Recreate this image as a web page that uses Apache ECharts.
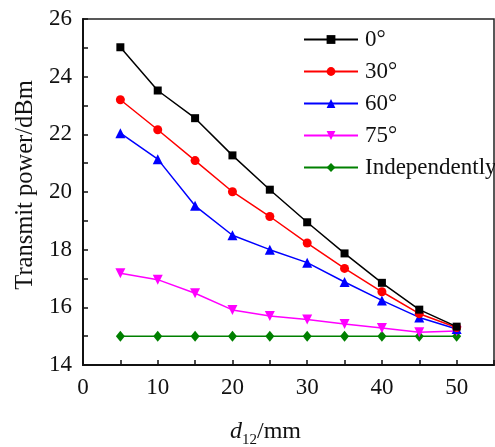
<!DOCTYPE html>
<html>
<head>
<meta charset="utf-8">
<script src="https://cdn.jsdelivr.net/npm/echarts@6/dist/echarts.min.js"></script>
<style>
  html, body { margin: 0; padding: 0; background: #fff; }
  #chart { width: 495px; height: 447px; }
</style>
</head>
<body>
<div id="chart"></div>
<script>
// Distance d12 (mm)
const distances = [5, 10, 15, 20, 25, 30, 35, 40, 45, 50];

// Transmit power (dBm) for each angle
const power0 = [25.02, 23.52, 22.56, 21.27, 20.08, 18.95, 17.87, 16.85, 15.92, 15.33];
const power30 = [23.2, 22.16, 21.09, 20.01, 19.15, 18.23, 17.35, 16.54, 15.78, 15.3];
const power60 = [22.04, 21.14, 19.52, 18.5, 18.0, 17.55, 16.88, 16.24, 15.65, 15.25];
const power75 = [17.18, 16.96, 16.49, 15.91, 15.7, 15.58, 15.42, 15.28, 15.14, 15.18];
const powerIndependent = [15.0, 15.0, 15.0, 15.0, 15.0, 15.0, 15.0, 15.0, 15.0, 15.0];

const seriesNames = ['0°', '30°', '60°', '75°', 'Independently'];
const seriesColors = ['#000000', '#ff0000', '#0000ff', '#ff00ff', '#008000'];
const seriesSymbols = ['rect', 'circle', 'triangle', 'path://M0,0 L2,0 L1,2 Z', 'diamond'];
const seriesSizes = [8, 9, 10, 10, [9, 11]];
const seriesValues = [power0, power30, power60, power75, powerIndependent];

const FONT = 'Liberation Serif';

const chart = echarts.init(document.getElementById('chart'), null, { renderer: 'canvas' });

const series = seriesValues.map((vals, i) => ({
  name: seriesNames[i],
  type: 'line',
  data: distances.map((d, k) => [d, vals[k]]),
  symbol: seriesSymbols[i],
  symbolSize: seriesSizes[i],
  lineStyle: { color: seriesColors[i], width: 1.5 },
  itemStyle: { color: seriesColors[i] },
  z: 10 - i
}));

chart.setOption({
  backgroundColor: '#fff',
  animation: false,
  textStyle: { fontFamily: FONT },
  grid: {
    left: 83, right: 1, top: 19, bottom: 82,
    outerBoundsMode: 'none',
    containLabel: false,
    show: true, borderColor: '#222', borderWidth: 1.5
  },
  legend: {
    orient: 'vertical',
    left: 298, top: 23,
    itemWidth: 54, itemHeight: 11,
    itemGap: 9,
    data: seriesNames,
    textStyle: { fontFamily: FONT, fontSize: 23, color: '#111', lineHeight: 23, padding: [0, 0, 0, 2] }
  },
  xAxis: {
    type: 'value',
    min: 0, max: 55, interval: 5,
    name: '{i|d}{s|12}{n|/mm}',
    nameLocation: 'middle',
    nameGap: 50,
    nameTextStyle: {
      padding: [0, 46, 0, 0],
      rich: {
        i: { fontFamily: FONT, fontStyle: 'italic', fontSize: 24, color: '#111' },
        s: { fontFamily: FONT, fontSize: 15, color: '#111', padding: [18, 0, 0, 0] },
        n: { fontFamily: FONT, fontSize: 24, color: '#111' }
      }
    },
    axisLine: { lineStyle: { color: '#111', width: 2 } },
    axisTick: { inside: true, length: 5, lineStyle: { color: '#111', width: 1.5 } },
    axisLabel: {
      fontFamily: FONT, fontSize: 23, color: '#111', margin: 11,
      formatter: v => (v % 10 === 0 && v <= 50) ? String(v) : ''
    },
    splitLine: { show: false }
  },
  yAxis: {
    type: 'value',
    min: 14, max: 26, interval: 1,
    name: 'Transmit power/dBm',
    nameLocation: 'middle',
    nameGap: 45,
    nameTextStyle: { fontFamily: FONT, fontSize: 24.5, color: '#111', padding: [0, 0, 0, 14] },
    axisLine: { show: true, lineStyle: { color: '#111', width: 2 } },
    axisTick: { inside: true, length: 5, lineStyle: { color: '#111', width: 1.5 } },
    axisLabel: {
      fontFamily: FONT, fontSize: 23, color: '#111', margin: 11,
      formatter: v => (v % 2 === 0) ? String(v) : ''
    },
    splitLine: { show: false }
  },
  series: series
});
</script>
</body>
</html>
